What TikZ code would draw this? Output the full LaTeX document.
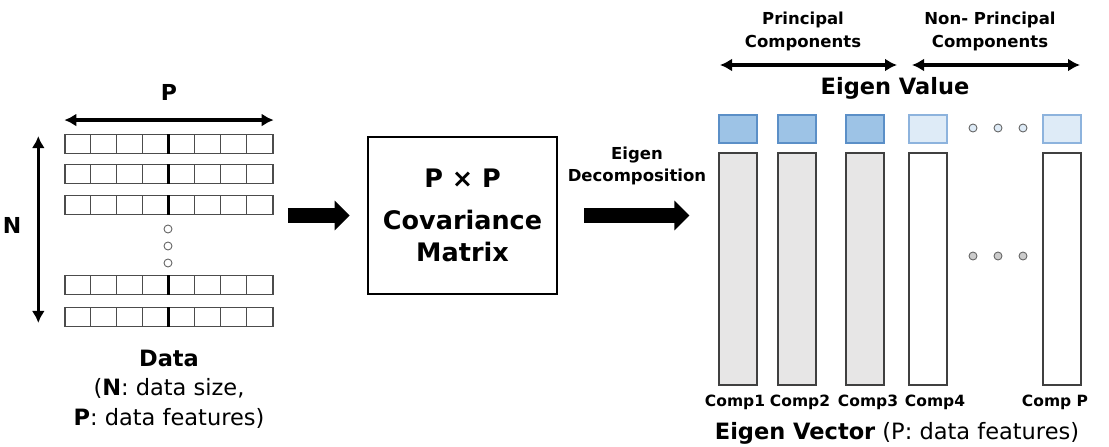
\documentclass[tikz,border=0pt]{standalone}
\usepackage{fontspec}
\setmainfont{DejaVu Sans}
\usetikzlibrary{positioning,arrows.meta,fit}

\definecolor{cValHi}{HTML}{9DC3E6}
\definecolor{cValHiB}{HTML}{5B8FC7}
\definecolor{cValLo}{HTML}{DEEBF7}
\definecolor{cValLoB}{HTML}{8DB3DD}
\definecolor{cBar}{HTML}{E7E6E6}

\begin{document}
\begin{tikzpicture}[
  x=1pt, y=-1pt,
  cellrow/.style={draw=black!70, line width=1.4pt, inner sep=0pt,
    minimum width=208pt, minimum height=18.5pt},
  gdot/.style={circle, draw=black!60, fill=#1, line width=0.9pt,
    minimum size=8pt, inner sep=0pt},
  valbox/.style={draw=#1B, fill=#1, line width=1.2pt, inner sep=0pt,
    minimum width=38pt, minimum height=28pt},
  vecbar/.style={draw=black!75, fill=#1, line width=1.3pt, inner sep=0pt,
    minimum width=38pt, minimum height=232pt},
  big/.style={-{Triangle[length=15pt,width=29pt]}, line width=14.5pt},
  dbl/.style={{Latex[length=12pt,width=13pt]}-{Latex[length=12pt,width=13pt]},
    line width=3.2pt},
  lbl/.style={font=\bfseries\fontsize{#1}{#1}\selectfont, inner sep=0pt},
  comp/.style={font=\bfseries\fontsize{15.5}{15.5}\selectfont, inner sep=0pt}
]
\useasboundingbox (0,0) rectangle (1109,447);

% ---- data matrix: N rows of P cells ----
\foreach \y [count=\i] in {144,174,205,285,317} {
  \node[cellrow] (r\i) at (169,\y) {};
  \foreach \k in {1,2,3,5,6,7}
    \draw[black!70, line width=1.4pt] ([xshift=\k*26pt]r\i.north west) -- ([xshift=\k*26pt]r\i.south west);
  \draw[black, line width=2.4pt] ([xshift=104pt]r\i.north west) -- ([xshift=104pt]r\i.south west);
}
\node[fit=(r1)(r5), inner sep=0pt] (data) {};
\foreach \y [count=\i] in {229,246,263} \node[gdot=white] (vd\i) at (168,\y) {};

\draw[dbl] ([yshift=14pt]r1.north west) -- ([yshift=14pt]r1.north east);
\draw[dbl] ([xshift=-26pt,yshift=-2pt]r1.north west) -- ([xshift=-26pt,yshift=4pt]r5.south west);
\node[lbl=22] (plbl) at (169,92) {P};
\node[lbl=22] (nlbl) at (12,225) {N};
\node[align=center, inner sep=0pt, font=\fontsize{22.5}{29.5}\selectfont] (dcap) at (169,389)
  {\textbf{Data}\\(\textbf{N}: data size,\\\textbf{P}: data features)};

% ---- covariance matrix ----
\node[draw, line width=2.8pt, minimum width=189pt, minimum height=157pt,
  align=center, font=\bfseries\fontsize{25.5}{32}\selectfont] (cov) at (462.5,215.5)
  {P × P\\[10pt]Covariance\\Matrix};

% ---- eigen values ----
\foreach \x/\c [count=\i] in {738/cValHi,797/cValHi,865/cValHi,928/cValLo,1062/cValLo}
  \node[valbox=\c] (v\i) at (\x,129) {};
\foreach \x [count=\i] in {973,998,1023} \node[gdot=cValLo] (hd\i) at (\x,128) {};

% ---- eigen vectors ----
\foreach \x/\c [count=\i] in {738/cBar,797/cBar,865/cBar,928/white,1062/white}
  \node[vecbar=\c] (e\i) at (\x,269) {};
\foreach \x [count=\i] in {973,998,1023} \node[gdot=black!20] (md\i) at (\x,256) {};

\node[comp] (c1) at (735,402) {Comp1};
\node[comp] (c2) at (800,402) {Comp2};
\node[comp] (c3) at (868,402) {Comp3};
\node[comp] (c4) at (935,402) {Comp4};
\node[comp] (c5) at (1055,402) {Comp P};

\node[inner sep=0pt, font=\fontsize{22.5}{22.5}\selectfont] (evec) at (897,433)
  {\textbf{Eigen Vector} (P: data features)};
\node[lbl=22.5] (eval) at (895,88) {Eigen Value};

% ---- principal / non-principal ----
\coordinate (pcL) at (720,65);
\coordinate (pcR) at (897,65);
\coordinate (npL) at (912,65);
\coordinate (npR) at (1080,65);
\draw[dbl] (pcL) -- (pcR);
\draw[dbl] (npL) -- (npR);
\node[align=center, inner sep=0pt, font=\bfseries\fontsize{16.5}{23}\selectfont] (pc) at (803,31.5)
  {Principal\\Components};
\node[align=center, inner sep=0pt, font=\bfseries\fontsize{16.5}{23}\selectfont] (np) at (990,31.5)
  {Non- Principal\\Components};

% ---- flow arrows ----
\draw[big, shorten <=14pt, shorten >=17pt] (data.east |- cov.west) -- (cov.west);
\draw[big, shorten <=26pt, shorten >=29pt] (cov.east) -- (cov.east -| e1.west);
\node[align=center, inner sep=0pt, font=\bfseries\fontsize{16.5}{22}\selectfont] (dec) at (637,166)
  {Eigen\\Decomposition};

\end{tikzpicture}
\end{document}
